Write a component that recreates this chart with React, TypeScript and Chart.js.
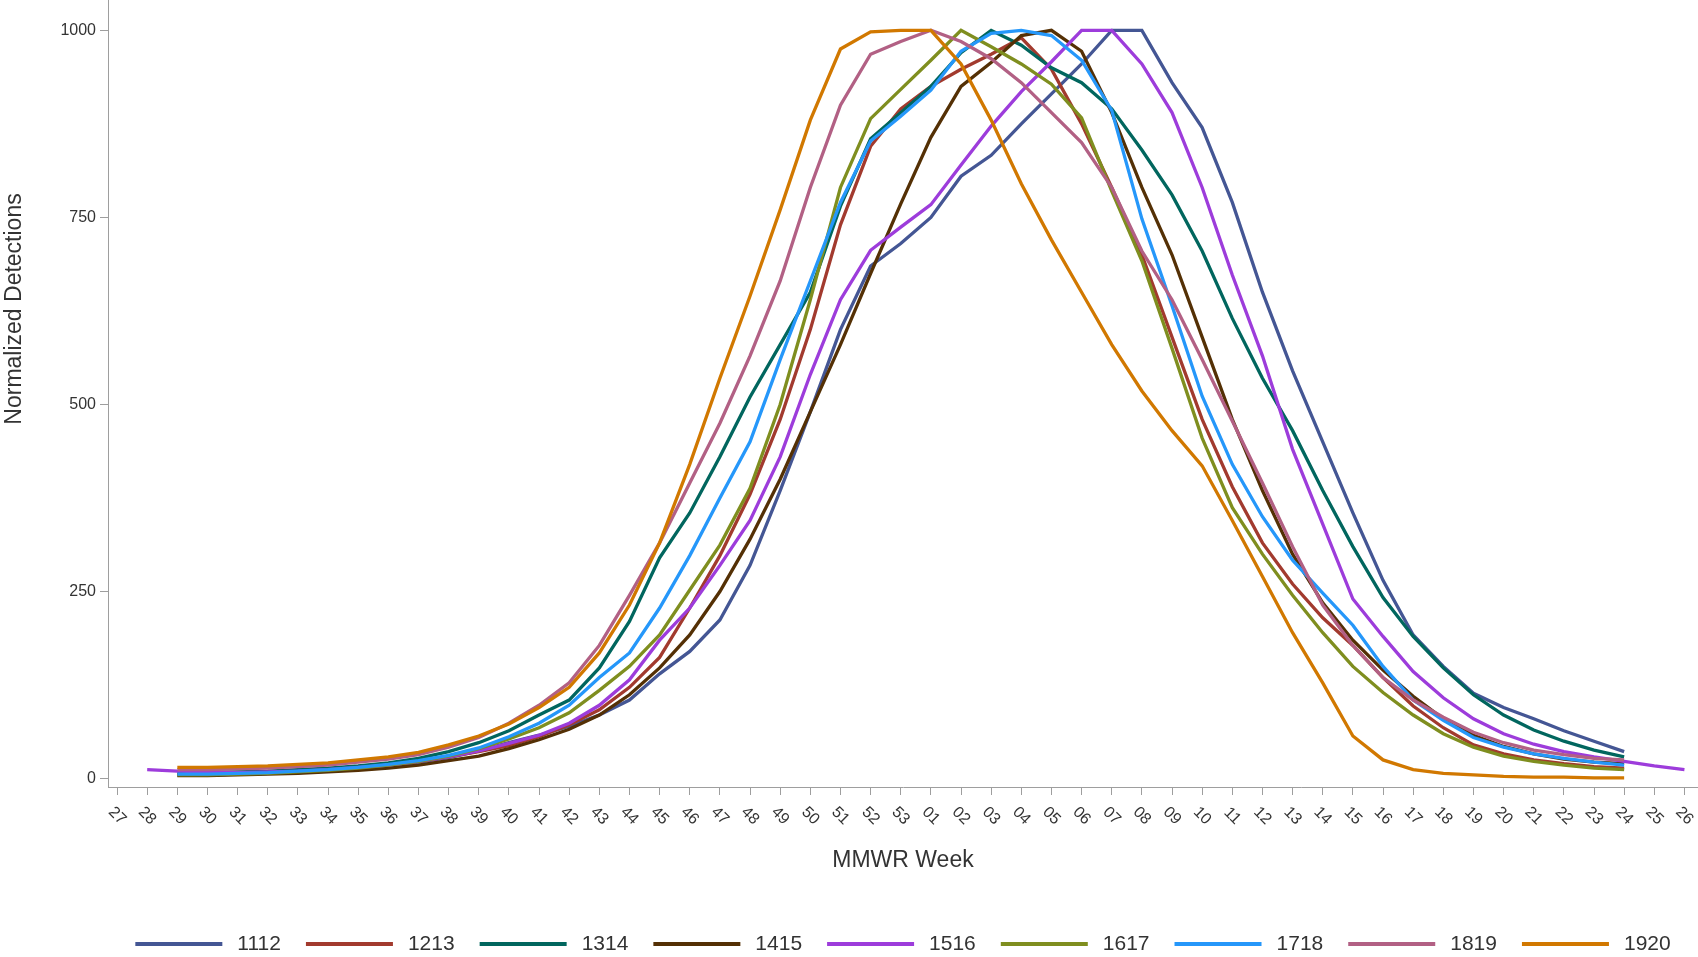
import React, { useEffect, useRef } from 'react';
import { Chart, registerables } from 'chart.js';

Chart.register(...registerables);

// MMWR week labels (season runs week 27 -> week 26 of next year)
const weekLabels = [
  '27','28','29','30','31','32','33','34','35','36','37','38','39','40','41','42','43','44','45','46',
  '47','48','49','50','51','52','53','01','02','03','04','05','06','07','08','09','10','11','12','13',
  '14','15','16','17','18','19','20','21','22','23','24','25','26',
];

const seasonNames = ['1112', '1213', '1314', '1415', '1516', '1617', '1718', '1819', '1920'];
const seasonColors = ['#445694', '#A23A2E', '#01665E', '#543005', '#9D3CDB', '#7F8E1F', '#2597FA', '#B26084', '#D17800'];

const yTickValues = [0, 250, 500, 750, 1000];

const N = null;
// weeks 27..53 | 01..26
const s1112 = [N, N,
  5, 5, 6, 7, 8, 10, 13, 17, 22, 28, 37, 48, 58, 70, 85, 105, 140, 170, 212, 285, 385, 490, 600, 685, 715,
  750, 805, 833, 875, 915, 955, 1000, 1000, 930, 870, 770, 650, 545, 450, 355, 265, 192, 150, 114, 95, 80, 64, 50, 36,
  N, N];
const s1213 = [N, N,
  6, 6, 7, 8, 9, 11, 14, 18, 23, 29, 36, 44, 56, 72, 92, 122, 162, 228, 298, 380, 480, 600, 740, 845, 895,
  925, 948, 968, 990, 948, 875, 790, 700, 590, 480, 390, 315, 260, 215, 178, 135, 97, 68, 45, 33, 25, 20, 16, 14,
  N, N];
const s1314 = [N, N,
  8, 8, 9, 10, 12, 14, 17, 21, 27, 36, 48, 64, 85, 105, 148, 210, 295, 355, 430, 510, 580, 650, 765, 855, 890,
  925, 970, 1000, 980, 950, 930, 895, 840, 780, 705, 615, 535, 465, 385, 310, 242, 190, 148, 112, 85, 65, 50, 38, 29,
  N, N];
const s1415 = [N, N,
  4, 4, 5, 6, 7, 9, 11, 14, 18, 24, 30, 40, 52, 66, 85, 112, 148, 192, 250, 320, 400, 490, 580, 675, 768,
  857, 925, 957, 993, 1000, 972, 890, 790, 700, 590, 480, 385, 300, 235, 185, 145, 110, 80, 58, 43, 33, 26, 22, 20,
  N, N];
const s1516 = [N, 12,
  10, 9, 8, 9, 10, 12, 15, 18, 23, 29, 37, 47, 58, 74, 98, 132, 185, 228, 285, 345, 430, 540, 640, 706, 737,
  767, 820, 872, 918, 958, 1000, 1000, 955, 890, 790, 673, 565, 440, 340, 240, 190, 143, 108, 80, 60, 46, 36, 29, 23,
  17, 12];
const s1617 = [N, N,
  5, 5, 6, 7, 9, 11, 14, 18, 23, 30, 40, 53, 68, 88, 118, 150, 192, 252, 312, 388, 500, 640, 790, 882, 921,
  960, 1000, 978, 955, 928, 883, 785, 692, 575, 455, 362, 300, 245, 195, 150, 115, 85, 60, 42, 30, 23, 18, 14, 12,
  N, N];
const s1718 = [N, N,
  6, 6, 7, 8, 10, 12, 15, 19, 24, 31, 41, 56, 74, 98, 135, 168, 228, 298, 375, 450, 560, 665, 770, 852, 885,
  920, 972, 996, 1000, 993, 960, 893, 748, 632, 511, 420, 350, 292, 248, 205, 150, 105, 78, 55, 42, 33, 27, 22, 18,
  N, N];
const s1819 = [N, N,
  12, 12, 13, 14, 16, 18, 22, 26, 32, 42, 55, 74, 98, 128, 178, 245, 315, 395, 475, 565, 665, 790, 900, 968, 985,
  1000, 985, 962, 930, 890, 850, 790, 705, 640, 560, 478, 395, 310, 232, 178, 135, 105, 82, 62, 48, 38, 32, 27, 25,
  N, N];
const s1920 = [N, N,
  15, 15, 16, 17, 19, 21, 25, 29, 35, 45, 57, 73, 95, 122, 168, 232, 315, 420, 535, 645, 760, 880, 975, 998, 1000,
  1000, 955, 880, 795, 720, 650, 580, 518, 465, 418, 345, 270, 195, 128, 57, 25, 12, 7, 5, 3, 2, 2, 1, 1,
  N, N];

const seriesValues = [s1112, s1213, s1314, s1415, s1516, s1617, s1718, s1819, s1920];

const FONT = '"Liberation Sans", Arial, sans-serif';
const TEXT_COLOR = '#333333';
const AXIS_COLOR = '#9E9E9E';

const W = 1698;
const H = 957;

const customText = {
  id: 'customText',
  afterDraw(chart: any) {
    const { ctx, chartArea } = chart;
    const x = chart.scales.x;
    ctx.save();
    // x tick labels, rotated 45deg clockwise, centred under each tick
    ctx.fillStyle = TEXT_COLOR;
    ctx.font = `16px ${FONT}`;
    ctx.textAlign = 'center';
    ctx.textBaseline = 'middle';
    weekLabels.forEach((lab, i) => {
      const px = x.getPixelForValue(i);
      ctx.save();
      ctx.translate(px, chartArea.bottom + 29);
      ctx.rotate(Math.PI / 4);
      ctx.fillText(lab, 0, 0);
      ctx.restore();
    });
    // x axis title
    ctx.font = `23px ${FONT}`;
    ctx.fillText('MMWR Week', (chartArea.left + chartArea.right) / 2, chartArea.bottom + 74);
    // y axis title
    ctx.save();
    ctx.translate(15, 309);
    ctx.rotate(-Math.PI / 2);
    ctx.fillText('Normalized Detections', 0, 0);
    ctx.restore();
    // legend
    ctx.font = `21px ${FONT}`;
    ctx.textAlign = 'left';
    const lineLen = 87;
    const gap = 15;
    const itemGap = 25;
    const widths = seasonNames.map((n) => lineLen + gap + ctx.measureText(n).width);
    const total = widths.reduce((a, b) => a + b, 0) + itemGap * (seasonNames.length - 1);
    let cx = (chartArea.left + chartArea.right) / 2 - total / 2;
    const ly = 944;
    seasonNames.forEach((n, i) => {
      ctx.strokeStyle = seasonColors[i];
      ctx.lineWidth = 4;
      ctx.beginPath();
      ctx.moveTo(cx, ly);
      ctx.lineTo(cx + lineLen, ly);
      ctx.stroke();
      ctx.fillStyle = TEXT_COLOR;
      ctx.fillText(n, cx + lineLen + gap, ly);
      cx += widths[i] + itemGap;
    });
    ctx.restore();
  },
};

export default function App() {
  const canvasRef = useRef<HTMLCanvasElement | null>(null);

  useEffect(() => {
    document.body.style.margin = '0';
    const canvas = canvasRef.current;
    if (!canvas) return;

    const datasets = seasonNames.map((name, i) => ({
      label: name,
      data: seriesValues[i]
        .map((v, idx) => (v === null ? null : { x: idx, y: v }))
        .filter((p) => p !== null),
      borderColor: seasonColors[i],
      backgroundColor: seasonColors[i],
      borderWidth: 3.3,
      pointRadius: 0,
      tension: 0,
      fill: false,
      order: seasonNames.length - i,
    }));

    const chart = new Chart(canvas, {
      type: 'line',
      data: { datasets: datasets as any },
      options: {
        animation: false,
        responsive: false,
        maintainAspectRatio: false,
        layout: { padding: 0 },
        plugins: {
          legend: { display: false },
          tooltip: { enabled: false },
          title: { display: false },
        },
        scales: {
          x: {
            type: 'linear',
            min: -0.3,
            max: 52.45,
            afterBuildTicks: (scale: any) => {
              scale.ticks = weekLabels.map((_, i) => ({ value: i }));
            },
            afterFit: (scale: any) => {
              scale.height = 170;
              scale.paddingLeft = 0;
              scale.paddingRight = 0;
            },
            ticks: { display: false },
            grid: {
              drawOnChartArea: false,
              drawTicks: true,
              tickLength: 8,
              color: AXIS_COLOR,
            },
            border: { color: AXIS_COLOR, width: 1 },
          },
          y: {
            type: 'linear',
            min: -11.2,
            max: 1040.5,
            afterBuildTicks: (scale: any) => {
              scale.ticks = yTickValues.map((v) => ({ value: v }));
            },
            afterFit: (scale: any) => {
              scale.width = 108;
              scale.paddingTop = 0;
              scale.paddingBottom = 0;
            },
            ticks: {
              color: TEXT_COLOR,
              font: { family: FONT, size: 16 },
              padding: 4,
              callback: (v: any) => String(v),
            },
            grid: {
              drawOnChartArea: false,
              drawTicks: true,
              tickLength: 8,
              color: AXIS_COLOR,
            },
            border: { color: AXIS_COLOR, width: 1 },
          },
        },
      },
      plugins: [customText],
    });

    return () => chart.destroy();
  }, []);

  return (
    <div style={{ width: W, height: H, overflow: 'hidden', background: '#ffffff' }}>
      <canvas ref={canvasRef} width={W} height={H} style={{ display: 'block', width: W, height: H }} />
    </div>
  );
}
